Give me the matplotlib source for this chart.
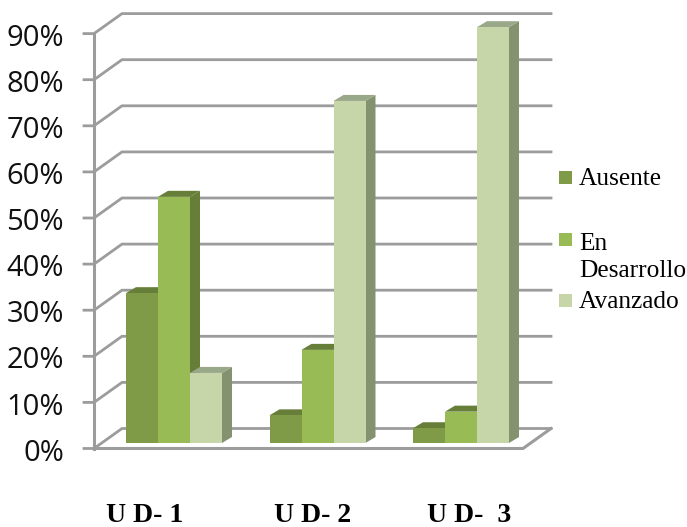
import matplotlib
matplotlib.use("Agg")
import matplotlib.pyplot as plt
from matplotlib.patches import Polygon, Rectangle
import numpy as np

groups = ['U D- 1', 'U D- 2', 'U D-  3']
series = ['Ausente', 'En\nDesarrollo', 'Avanzado']
ausente = [32.5, 6.0, 3.2]
desarrollo = [53.4, 20.2, 6.8]
avanzado = [15.2, 74.2, 90.2]
ticks = [0, 10, 20, 30, 40, 50, 60, 70, 80, 90]

front = ['#7f9b47', '#98bb55', '#c6d6a8']
side = ['#667e38', '#667e38', '#84926f']
top = ['#667e38', '#667e38', '#9aa88a']
grid_col = '#9c9c9c'

# x is in group units, y in percent; these convert from figure pixels
def X(p):
    return (p - 174) / 143.5

def Y(p):
    return (448.5 - p) / 4.61

W, H = 687, 527
fig = plt.figure(figsize=(W / 100, H / 100), dpi=100)
ax = fig.add_axes([0, 0, 1, 1])
ax.set_xlim(X(0), X(W))
ax.set_ylim(Y(H), Y(0))
ax.axis('off')

# depth of the chart box and of each bar
wall_dx, wall_dy = 28 / 143.5, 20 / 4.61
bar_dx, bar_dy = 10 / 143.5, 6 / 4.61
base = 5.5 / 4.61
bar_w = 32 / 143.5
left = X(94)
right = X(523)

for t in ticks:
    ax.plot([X(84), left, left + wall_dx, right + wall_dx], [t, t, t + wall_dy, t + wall_dy],
            color=grid_col, lw=2.0, zorder=1, solid_joinstyle='miter')
ax.plot([left, left], [0, 90], color=grid_col, lw=2.2, zorder=1)
ax.plot([left, right, right + wall_dx], [0, 0, wall_dy], color=grid_col, lw=2.2, zorder=1)

# bars: front face, then the top and right side for the 3d look
for g in range(3):
    vals = [ausente[g], desarrollo[g], avanzado[g]]
    for s in range(3):
        x0 = g + (s - 1.5) * bar_w
        x1 = x0 + bar_w
        y1 = base + vals[s]
        ax.add_patch(Polygon([(x1, base), (x1 + bar_dx, base + bar_dy),
                              (x1 + bar_dx, y1 + bar_dy), (x1, y1)],
                             facecolor=side[s], edgecolor='none', zorder=3 + s))
        ax.add_patch(Polygon([(x0, y1), (x0 + bar_dx, y1 + bar_dy),
                              (x1 + bar_dx, y1 + bar_dy), (x1, y1)],
                             facecolor=top[s], edgecolor='none', zorder=3 + s))
        ax.bar(x0, vals[s], bar_w, bottom=base, align='edge', color=front[s], zorder=3 + s)

for t in ticks:
    ax.text(X(64), t - 1.0, f'{t}%', ha='right', va='center', fontsize=21,
            family='Open Sans', color='#111111')

label_x = [145, 313, 469]
for name, px in zip(groups, label_x):
    ax.text(X(px), Y(516), name, ha='center', va='center', fontsize=20,
            family='Liberation Serif', weight='bold', color='black')

# legend placed by hand, the middle entry wraps onto two lines
box_top = [171, 233, 294]
text_base = [185, 277, 308]
for s in range(3):
    ax.add_patch(Rectangle((X(559), Y(box_top[s] + 13)), 13 / 143.5, 13 / 4.61,
                           facecolor=front[s], edgecolor='none', zorder=2))
    ax.text(X(579), Y(text_base[s]), series[s], ha='left', va='baseline', fontsize=18.3,
            family='Liberation Serif', color='black', linespacing=1.32)

fig.savefig('out.png', dpi=100)
